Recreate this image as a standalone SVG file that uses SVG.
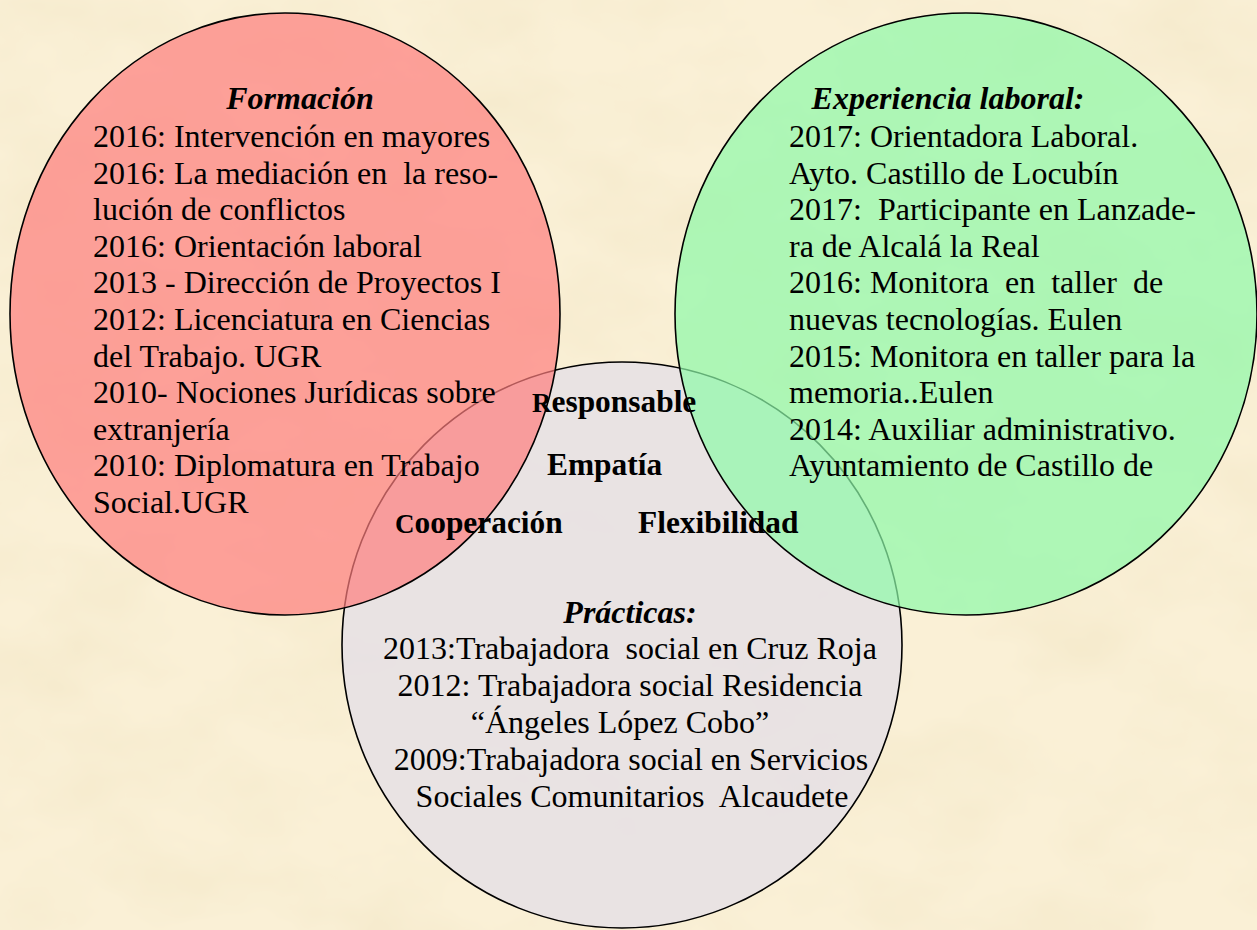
<svg xmlns="http://www.w3.org/2000/svg" width="1257" height="930" viewBox="0 0 1257 930">
<style>
.t{font-family:"Liberation Serif","Times New Roman",serif;font-size:32px;fill:#000}
.h{font-family:"Liberation Serif","Times New Roman",serif;font-size:32px;font-weight:bold;font-style:italic;fill:#000}
.b{font-family:"Liberation Serif","Times New Roman",serif;font-size:31.4px;font-weight:bold;fill:#000}
.ring{stroke:#000;stroke-width:1.6}
</style>
<defs>
<filter id="paper" x="0" y="0" width="100%" height="100%" filterUnits="userSpaceOnUse">
<feTurbulence type="fractalNoise" baseFrequency="0.007 0.011" numOctaves="4" seed="7"/>
<feColorMatrix type="matrix" values="0 0 0 0 0.86  0 0 0 0 0.76  0 0 0 0 0.52  0.8 0 0 0 -0.3"/>
</filter>
</defs>
<g id="background">
<rect x="0" y="0" width="1257" height="930" fill="#FAF0D6"/>
<rect x="0" y="0" width="1257" height="930" fill="#fff" filter="url(#paper)"/>
</g>
<g id="practicas">
<ellipse class="ring" cx="622" cy="645" rx="280" ry="283" fill="#E7E1E4" fill-opacity="0.9"/>
<text class="h" x="630" y="623" text-anchor="middle">Prácticas:</text>
<text class="t" x="630" y="659" text-anchor="middle" xml:space="preserve">2013:Trabajadora  social en Cruz Roja</text>
<text class="t" x="630" y="696" text-anchor="middle">2012: Trabajadora social Residencia</text>
<text class="t" x="620" y="733" text-anchor="middle">“Ángeles López Cobo”</text>
<text class="t" x="631" y="770" text-anchor="middle">2009:Trabajadora social en Servicios</text>
<text class="t" x="632" y="807" text-anchor="middle" xml:space="preserve">Sociales Comunitarios  Alcaudete</text>
</g>
<g id="formacion">
<ellipse class="ring" cx="285" cy="314" rx="275" ry="301" fill="#FD7E7D" fill-opacity="0.7"/>
<text class="h" x="300" y="109" text-anchor="middle">Formación</text>
<text class="t" x="93" y="147">2016: Intervención en mayores</text>
<text class="t" x="93" y="183.6" xml:space="preserve">2016: La mediación en  la reso-</text>
<text class="t" x="93" y="220.2">lución de conflictos</text>
<text class="t" x="93" y="256.8">2016: Orientación laboral</text>
<text class="t" x="93" y="293.4">2013 - Dirección de Proyectos I</text>
<text class="t" x="93" y="330">2012: Licenciatura en Ciencias</text>
<text class="t" x="93" y="366.6">del Trabajo. UGR</text>
<text class="t" x="93" y="403.2">2010- Nociones Jurídicas sobre</text>
<text class="t" x="93" y="439.8">extranjería</text>
<text class="t" x="93" y="476.4">2010: Diplomatura en Trabajo</text>
<text class="t" x="93" y="513">Social.UGR</text>
</g>
<g id="experiencia">
<ellipse class="ring" cx="966" cy="314" rx="291" ry="301" fill="#8DFAA8" fill-opacity="0.7"/>
<text class="h" x="948" y="109" text-anchor="middle">Experiencia laboral:</text>
<text class="t" x="789" y="147">2017: Orientadora Laboral.</text>
<text class="t" x="789" y="183.6">Ayto. Castillo de Locubín</text>
<text class="t" x="789" y="220.2" xml:space="preserve">2017:  Participante en Lanzade-</text>
<text class="t" x="789" y="256.8">ra de Alcalá la Real</text>
<text class="t" x="789" y="293.4" xml:space="preserve">2016: Monitora  en  taller  de</text>
<text class="t" x="789" y="330">nuevas tecnologías. Eulen</text>
<text class="t" x="789" y="366.6">2015: Monitora en taller para la</text>
<text class="t" x="789" y="403.2">memoria..Eulen</text>
<text class="t" x="789" y="439.8">2014: Auxiliar administrativo.</text>
<text class="t" x="789" y="476.4">Ayuntamiento de Castillo de</text>
</g>
<g id="cualidades">
<text class="b" x="532" y="412"><tspan font-size="27">R</tspan>esponsable</text>
<text class="b" x="547" y="475">Empatía</text>
<text class="b" x="395" y="533"><tspan font-size="27">C</tspan>ooperación</text>
<text class="b" x="638" y="533">Flexibilidad</text>
</g>
<g id="connectors"/>
</svg>
